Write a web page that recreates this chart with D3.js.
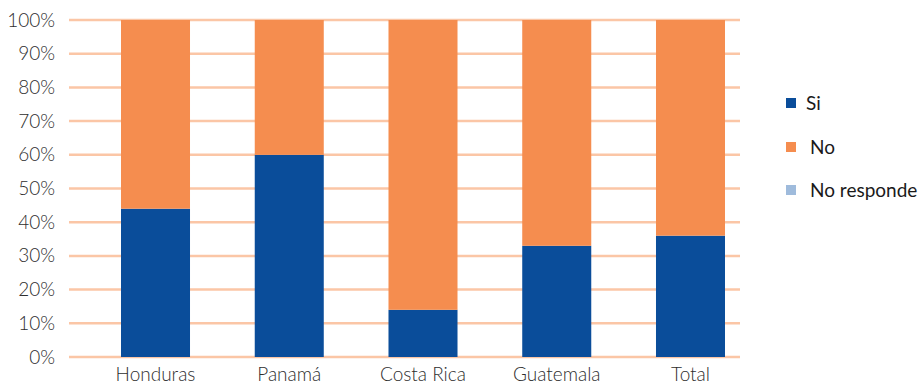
<!DOCTYPE html>
<html><head><meta charset="utf-8">
<script src="https://cdn.jsdelivr.net/npm/d3@7"></script>
<style>body{margin:0;background:#fff}svg{display:block}text{font-family:Lato,"Open Sans",sans-serif;font-weight:300}</style>
</head><body><svg id="c" width="923" height="384"></svg>
<script>
const categories = ["Honduras","Panamá","Costa Rica","Guatemala","Total"];
const seriesNames = ["Si","No","No responde"];
const siValues = [44,60,14,33,36];
const noValues = [56,40,86,67,64];
const noRespondeValues = [0,0,0,0,0];
const yTicks = [0,10,20,30,40,50,60,70,80,90,100];
const colors = ["#0a4d9a","#f58d4f","#9fbbdc"];

const svg = d3.select("#c");
const x = d3.scaleBand().domain(categories).range([121,725]).paddingInner(0.484).paddingOuter(0);
const y = d3.scaleLinear().domain([0,100]).range([357,20]);

svg.append("g").selectAll("line").data(yTicks).join("line")
  .attr("x1",69).attr("x2",740).attr("y1",d=>y(d)).attr("y2",d=>y(d))
  .attr("stroke","#fbc6a6").attr("stroke-width",2.5);

const rows = categories.map((c,i)=>({cat:c,"Si":siValues[i],"No":noValues[i],"No responde":noRespondeValues[i]}));
const stack = d3.stack().keys(seriesNames)(rows);
svg.append("g").selectAll("g").data(stack).join("g").attr("fill",(d,i)=>colors[i])
  .selectAll("rect").data(d=>d).join("rect")
  .attr("x",d=>x(d.data.cat)).attr("width",x.bandwidth())
  .attr("y",d=>y(d[1])).attr("height",d=>y(d[0])-y(d[1]));

const ya = svg.append("g").attr("transform","translate(55,0)")
  .call(d3.axisLeft(y).tickValues(yTicks).tickFormat(d=>d+"%").tickSize(0).tickPadding(0));
ya.select(".domain").remove();
ya.selectAll("text").attr("font-size",19).attr("fill","#2e2e2e").attr("font-family","Lato,sans-serif");

const xa = svg.append("g").attr("transform","translate(0,357)")
  .call(d3.axisBottom(x).tickSize(0).tickPadding(11));
xa.select(".domain").remove();
xa.selectAll("text").attr("font-size",19).attr("fill","#2e2e2e").attr("font-family","Lato,sans-serif");

const legY = [103,147,190];
const legX = [806,810,810];
const lg = svg.append("g").selectAll("g").data(seriesNames).join("g");
lg.append("rect").attr("x",786).attr("y",(d,i)=>legY[i]-5).attr("width",10).attr("height",10).attr("fill",(d,i)=>colors[i]);
lg.append("text").attr("x",(d,i)=>legX[i]).attr("y",(d,i)=>legY[i]).attr("dy","0.35em")
  .attr("font-size",19).style("font-weight",400).attr("fill","#1a1a1a").text(d=>d);
</script></body></html>
